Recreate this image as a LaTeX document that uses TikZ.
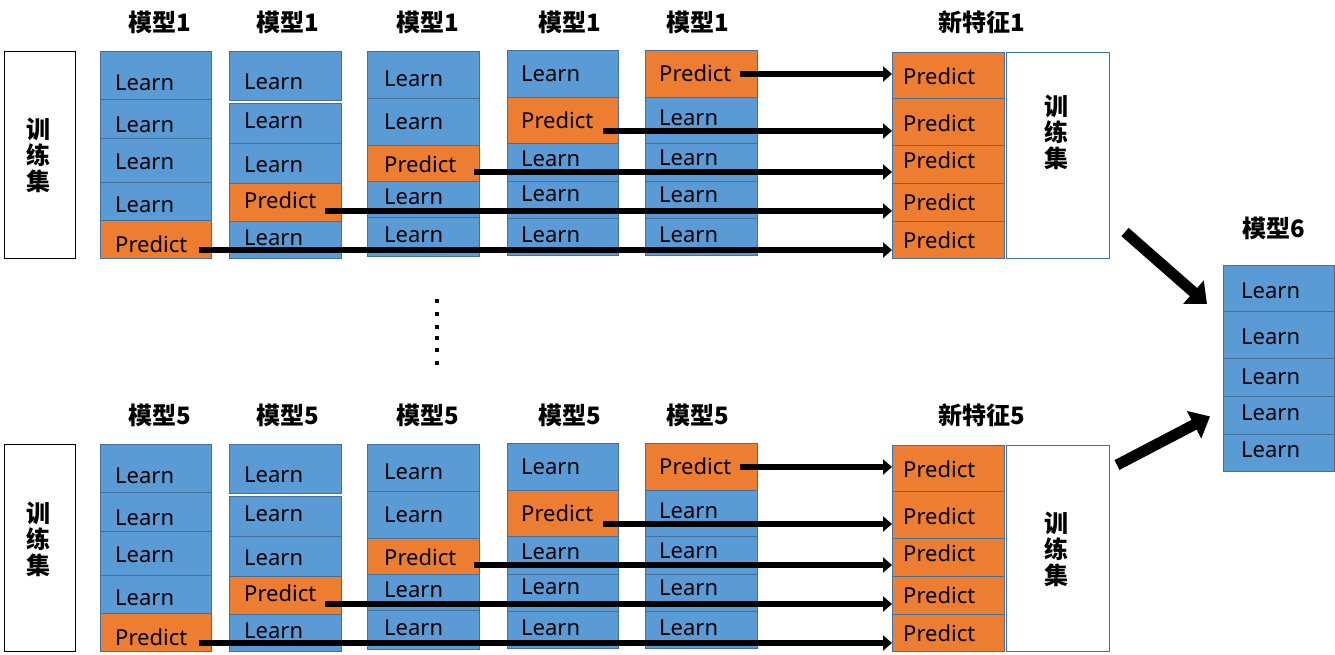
\documentclass[tikz,border=0pt]{standalone}
\usepackage{fontspec}
\setmainfont{Noto Sans}
\newfontfamily\cjk{Noto Sans CJK SC}
\usetikzlibrary{arrows.meta}
\definecolor{cblue}{HTML}{5B9BD5}
\definecolor{corange}{HTML}{ED7D31}
\definecolor{bordc}{HTML}{41719C}
\tikzset{
  cellLearn/.style={draw=bordc, fill=cblue, line width=0.8pt, anchor=north west, inner sep=0pt},
  cellPredict/.style={draw=bordc, fill=corange, line width=0.8pt, anchor=north west, inner sep=0pt},
  txt/.style={anchor=west, inner sep=0pt, font=\fontsize{22}{24}\selectfont, text=black},
  lab/.style={inner sep=0pt, font=\cjk\bfseries\fontsize{24}{26}\selectfont},
  vtxt/.style={inner sep=0pt, align=center, font=\cjk\bfseries\fontsize{24}{26}\selectfont},
  trainL/.style={draw=black, line width=1pt, anchor=north west, inner sep=0pt},
  trainR/.style={draw=bordc, line width=1pt, anchor=north west, inner sep=0pt},
  arr/.style={line width=5.5pt, draw=black, -{Triangle[length=9pt,width=15pt]}},
  bigarr/.style={line width=11pt, draw=black, -{Triangle[length=18pt,width=30pt]}},
  dotn/.style={fill=black, inner sep=0pt, minimum size=4pt}
}
\newcommand\stackcol[5]{%
  \foreach \ytop/\ybot/\word/\ytxt [count=\ci] in {#5}{%
    \pgfmathsetmacro\hh{\ybot-\ytop}%
    \node[cell\word, minimum width=#3pt, minimum height=\hh pt] (#1c\ci) at (#2,\ytop) {};%
    \node[txt] (#1t\ci) at (#2+#4,\ytxt) {\word};%
  }}
\newcommand\drawgroup[5]{%
  % labels
  \node[lab] (#1m1) at (160,22) {模型#2};
  \node[lab] (#1m2) at (288,22) {模型#2};
  \node[lab] (#1m3) at (428,22) {模型#2};
  \node[lab] (#1m4) at (570,22) {模型#2};
  \node[lab] (#1m5) at (698,22) {模型#2};
  \node[lab] (#1nf) at (982,22) {新特征#2};
  % left training set
  \node[trainL, minimum width=71pt, minimum height=207pt] (#1tl) at (4,51) {};
  \node[vtxt] (#1tlt) at (39,#3) {训\\练\\集};
  % columns
  \stackcol{#1k1}{100}{111}{15}{51/99/Learn/83, 99/138/Learn/125, 138/182/Learn/162, 182/220/Learn/205, 220/258/Predict/244}
  \stackcol{#1k2}{229}{112}{15}{51/100/Learn/82, 103/143/Learn/121, 143/183/Learn/165, 183/221/Predict/200, 221/258/Learn/238}
  \stackcol{#1k3}{367}{112}{17}{51/98/Learn/79, 98/145/Learn/122, 145/181/Predict/164, 181/217/Learn/197, 217/256/Learn/235}
  \stackcol{#1k4}{507}{111}{14}{50/97/Learn/74, 97/143/Predict/120, 143/181/Learn/159, 181/218/Learn/194, 218/255/Learn/235}
  \stackcol{#1k5}{645}{112}{14}{50/97/Predict/73, 97/143/Learn/118, 143/181/Learn/158, 181/218/Learn/195, 218/255/Learn/235}
  \stackcol{#1n}{892}{112}{11}{52/98/Predict/76, 98/145/Predict/123, 145/183/Predict/160, 183/221/Predict/202, 221/258/Predict/240}
  % right training set
  \node[trainR, minimum width=103pt, minimum height=206pt] (#1tr) at (1006,52) {};
  \node[vtxt] (#1trt) at (1056,#4) {训\\练\\集};
  % arrows
  \coordinate (#1s1) at ([xshift=9pt,yshift=-1pt]#1k5t1.east);
  \coordinate (#1s2) at ([xshift=10pt,yshift=-11pt]#1k4t2.east);
  \coordinate (#1s3) at ([xshift=18pt,yshift=-8pt]#1k3t3.east);
  \coordinate (#1s4) at ([xshift=9pt,yshift=-11pt]#1k2t4.east);
  \coordinate (#1s5) at ([xshift=12pt,yshift=-6pt]#1k1t5.east);
  \foreach \r in {1,...,5}{\draw[arr] (#1s\r) -- (#1s\r -| #1nc1.west);}
}
\begin{document}
\begin{tikzpicture}[x=1pt,y=-1pt]
\useasboundingbox (0,0) rectangle (1335,654);
\drawgroup{a}{1}{155}{132}{}
\begin{scope}[yshift=-393pt]
\drawgroup{b}{5}{146}{156}{}
\end{scope}
% dots
\foreach \yy [count=\di] in {301,314,327,338,350,363}{\node[dotn] (d\di) at (437,\yy) {};}
% model 6
\node[lab] (m6) at (1274,228) {模型6};
\stackcol{m}{1223}{111}{18}{265/311/Learn/291, 311/358/Learn/337, 358/396/Learn/377, 396/434/Learn/413, 434/471/Learn/450}
% big arrows
\coordinate (g1) at (1125,232);
\coordinate (g2) at (1117,465);
\draw[bigarr] (g1) -- ([xshift=-16pt]mc1.west |- 0,304);
\draw[bigarr] (g2) -- ([xshift=-13pt,yshift=-1pt]mc4.west);
\end{tikzpicture}
\end{document}
